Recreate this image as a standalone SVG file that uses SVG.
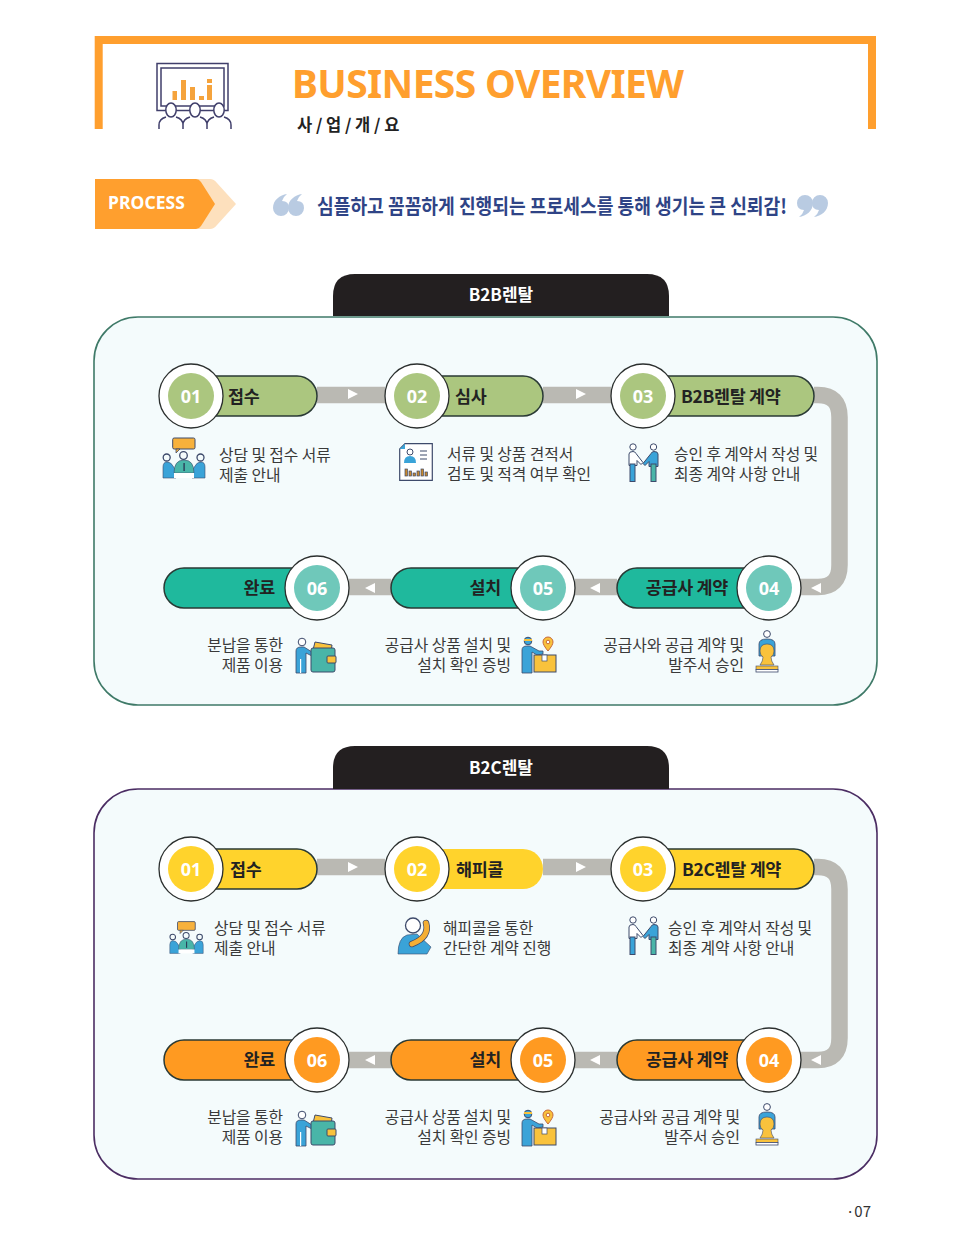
<svg xmlns="http://www.w3.org/2000/svg" width="966" height="1242" viewBox="0 0 966 1242">
<style>
text{font-family:"Noto Sans CJK KR","Noto Sans",sans-serif}
.ring{fill:#fff;stroke:#2b2f2e;stroke-width:1.3}
.num{fill:#fff;font-size:18px;font-weight:700;text-anchor:middle;font-family:"Noto Sans",sans-serif}
.lab{fill:#222;font-size:17.4px;font-weight:700;letter-spacing:-.3px}
.end{text-anchor:end}
.desc{fill:#3a3a3a;font-size:15.85px;letter-spacing:-.1px}
.pill{stroke:#2a3a35;stroke-width:1.5}
.conn{fill:none;stroke:#bab9b3;stroke-width:16.5}
.arr{fill:#fff}
.g1{fill:#abc67f}.g2{fill:#1fb99d}.g3{fill:#6fc8ba}.y{fill:#ffd32c}.o{fill:#ff9a21}
.tab{fill:#231f20}
.tabt{fill:#fff;font-size:17px;font-weight:700;text-anchor:middle}
.panel{fill:#f4fbfc;stroke-width:1.6}
.ln{fill:none;stroke:#3d4a6b;stroke-width:1.3}
.bl{fill:#3aa3d8}.tl{fill:#49b5a8}.gd{fill:#f9c23c}
</style>
<defs>
<symbol id="meet" viewBox="0 0 44 44" overflow="visible">
<rect x="10.700" y="2" width="22.300" height="11" rx="1.500" fill="#f7b13c" stroke="#3d4a6b" stroke-width="1"/><path d="M14 13v4l4-4z" fill="#f7b13c" stroke="#3d4a6b" stroke-width=".8"/>
<circle cx="21.500" cy="19.500" r="3.800" class="ln"/><circle cx="4.700" cy="21.500" r="3.500" class="ln"/><circle cx="38.500" cy="21.500" r="3.500" class="ln"/>
<path d="M1 42V31q0-5 4-5 4 0 6 4l3 5v7z" class="bl" stroke="#3d4a6b" stroke-width=".6"/><path d="M43 42V31q0-5-4-5-4 0-6 4l-3 5v7z" class="bl" stroke="#3d4a6b" stroke-width=".6"/>
<path d="M12 37q0-13 10-13t10 13z" class="tl" stroke="#3d4a6b" stroke-width=".6"/><rect x="21.400" y="27" width="1.400" height="8" fill="#2b3d5a"/><rect x="12" y="37" width="20" height="5" fill="#fff"/>
</symbol>
<symbol id="doc" viewBox="0 0 34 38" overflow="visible">
<path d="M6 .7H33.300V37.300H.7V6z" fill="#fff" stroke="#3d4a6b" stroke-width="1.200"/><path d="M.7 6L6 .7V6z" fill="#3aa3d8"/>
<circle cx="11" cy="9" r="3" fill="#fff" stroke="#3d4a6b"/><path d="M5 20q0-7 6-7t6 7z" class="bl"/>
<path d="M21 8h7M21 12h7M21 16h7" stroke="#3d4a6b" stroke-width="1"/>
<g fill="#c8882c" stroke="#3d4a6b" stroke-width=".7"><rect x="6" y="26" width="2.500" height="7"/><rect x="10" y="28" width="2.500" height="5"/><rect x="14" y="30" width="2.500" height="3"/><rect x="18" y="28" width="2.500" height="5"/><rect x="22" y="26" width="2.500" height="7"/><rect x="26" y="29" width="2.500" height="4"/></g>
</symbol>
<symbol id="hands" viewBox="0 0 31 39" overflow="visible">
<circle cx="5" cy="4" r="3.200" fill="#fff" stroke="#3d4a6b"/><circle cx="25.500" cy="4" r="3.200" fill="#fff" stroke="#3d4a6b"/>
<path d="M1 21V11q0-2.500 4-2.500 2 0 3 2l7 9-2 2-4-4v5H1z" fill="#fff" stroke="#3d4a6b"/>
<path d="M30 21V11q0-2.500-4-2.500-2 0-3 2l-8 10 2 2 4-4v5h9z" fill="#3aa3d8" stroke="#3d4a6b"/>
<rect x="2" y="21" width="5" height="17.500" fill="#3aa3d8" stroke="#3d4a6b"/><rect x="23" y="21" width="5" height="17.500" fill="#49b5a8" stroke="#3d4a6b"/>
</symbol>
<symbol id="wallet" viewBox="0 0 42 36" overflow="visible">
<circle cx="7" cy="5" r="3.800" fill="#fff" stroke="#3d4a6b"/>
<path d="M1 36V14q0-4 5-4h3l8 5 3-1 1 3-4 2-6-3v20z" class="bl" stroke="#3d4a6b" stroke-width=".8"/><rect x="5" y="22" width="1.200" height="14" fill="#fff"/>
<path d="M18 13l2-8 17 3-1 7z" fill="#f9c23c" stroke="#3d4a6b"/>
<rect x="16" y="11" width="24" height="24" rx="2" class="tl" stroke="#3d4a6b"/>
<rect x="32" y="19" width="9" height="7" rx="1" fill="#f9c23c" stroke="#3d4a6b"/>
</symbol>
<symbol id="box" viewBox="0 0 36 37" overflow="visible">
<circle cx="7" cy="5" r="3.800" class="bl" stroke="#3d4a6b"/><path d="M3 3h8v2H3z" fill="#f9c23c"/>
<path d="M1 37V14q0-4 5-4h3l9 5 4 0v3l-6 1-5-3v21z" class="bl" stroke="#3d4a6b" stroke-width=".8"/>
<path d="M27 1a5 5 0 0 1 5 5q0 3-5 9-5-6-5-9a5 5 0 0 1 5-5z" fill="#f9c23c" stroke="#c7683a"/><circle cx="27" cy="6" r="1.800" fill="#fff" stroke="#c7683a"/>
<rect x="13" y="19" width="22" height="17" fill="#f9c23c" stroke="#3d4a6b"/><rect x="21" y="19" width="5" height="6" fill="#fff" stroke="#3d4a6b" stroke-width=".7"/>
</symbol>
<symbol id="stamp" viewBox="0 0 24 43" overflow="visible">
<circle cx="12" cy="4" r="3.400" fill="#fff" stroke="#3d4a6b"/>
<path d="M4 26V14q0-5 8-5t8 5v12z" class="bl" stroke="#3d4a6b" stroke-width=".8"/>
<path d="M12 14q7 0 7 7 0 4-3 6 0 4 3 8H5q3-4 3-8-3-2-3-6 0-7 7-7z" class="gd" stroke="#3d4a6b" stroke-width=".6"/>
<rect x="1" y="36" width="22" height="3.500" class="gd" stroke="#3d4a6b" stroke-width=".6"/><rect x="1" y="39.500" width="22" height="2.500" fill="#fff" stroke="#3d4a6b" stroke-width=".8"/>
</symbol>
<symbol id="phone" viewBox="0 0 37 37" overflow="visible">
<circle cx="16" cy="8.500" r="7.500" fill="#fff" stroke="#3d4a6b" stroke-width="1.300"/>
<path d="M1 37q0-16 9-19l10-1 14 13-4 7z" class="bl" stroke="#3d4a6b" stroke-width=".6"/>
<path d="M29 6Q33 20 15 27" fill="none" stroke="#3d4a6b" stroke-width="6.500" stroke-linecap="round"/>
<path d="M29 6Q33 20 15 27" fill="none" stroke="#f5ae33" stroke-width="5" stroke-linecap="round"/>
</symbol>
<path id="q" d="M14 0C7 1 0 6 0 14a8 8 0 0 0 16 0q0-7-7-7 1-4 5-7z"/>
<path id="arrR" d="M0 0L10 5 0 10z"/>
<path id="arrL" d="M10 0L0 5 10 10z"/>
</defs>
<rect width="966" height="1242" fill="#fff"/>

<g id="header">
<path d="M98.700 129V40H872V129" fill="none" stroke="#ff9f2e" stroke-width="8"/>
<g id="header-icon" fill="none" stroke="#403f6b" stroke-width="1.500">
<rect x="157" y="63.500" width="71" height="47"/><rect x="161" y="68" width="63" height="38"/>
<g fill="#f5a33c" stroke="none"><rect x="172.500" y="91" width="4.500" height="9"/><rect x="181" y="80" width="5" height="20"/><rect x="190" y="87" width="5" height="13"/><rect x="199" y="96" width="5" height="4"/><rect x="207" y="85" width="5" height="15"/><rect x="207" y="79" width="5" height="4"/></g>
<g fill="#fff"><ellipse cx="171" cy="110" rx="5.200" ry="7"/><ellipse cx="195" cy="110" rx="5.200" ry="7"/><ellipse cx="219" cy="110" rx="5.200" ry="7"/></g>
<path d="M159 129v-4q0-6 7-8M183 129v-4q0-6-7-8M183 129v-4q0-6 7-8M207 129v-4q0-6-7-8M207 129v-4q0-6 7-8M231 129v-4q0-6-7-8"/>
</g>
<text x="292" y="98" font-size="39" font-weight="700" fill="#ff9f2e" textLength="392" lengthAdjust="spacing" style="font-family:'Noto Sans',sans-serif">BUSINESS OVERVIEW</text>
<text x="297" y="131" font-size="16.500" font-weight="700" fill="#222">사 / 업 / 개 / 요</text>
</g>

<g id="process">
<path d="M95 179H210Q214 179 217 183L236 204 217 225Q214 229 210 229H95z" fill="#fde0bd"/>
<path d="M95 179H196Q199 179 201 182L215 204 201 226Q199 229 196 229H95z" fill="#ff9f2e"/>
<text x="108" y="209" font-size="17.500" font-weight="700" fill="#fff" textLength="77" style="font-family:'Noto Sans',sans-serif">PROCESS</text>
<g id="quote-l" fill="#b9cbe2"><use href="#q" x="273" y="194"/><use href="#q" x="288" y="194"/></g>
<text x="317" y="214" font-size="20.500" font-weight="700" fill="#2f4486" textLength="470" lengthAdjust="spacingAndGlyphs">심플하고 꼼꼼하게 진행되는 프로세스를 통해 생기는 큰 신뢰감!</text>
<g id="quote-r" fill="#b9cbe2" transform="rotate(180 813 205.500)"><use href="#q" x="798" y="194"/><use href="#q" x="813" y="194"/></g>
</g>

<g id="section-b2b">
<rect class="panel" x="94" y="317" width="783" height="388" rx="44" stroke="#3f7a68"/>
<path class="tab" d="M333 316V296Q333 274 355 274H647Q669 274 669 296V316z"/>
<text class="tabt" x="501" y="301">B2B렌탈</text>
</g>
<g id="connectors-b2b">
<path class="conn" d="M317 395H385M543 395H611M814 395H818Q839.500 395 839.500 417V565Q839.500 587 818 587H800M617 587H575M391 587H349"/>
<use class="arr" href="#arrR" x="348" y="389"/><use class="arr" href="#arrR" x="576" y="389"/>
<use class="arr" href="#arrL" x="811" y="583"/><use class="arr" href="#arrL" x="590" y="583"/><use class="arr" href="#arrL" x="365" y="583"/>
</g>
<g id="b2b-01"><rect class="pill g1" x="180" y="376" width="137" height="40" rx="20"/><circle class="ring" cx="191" cy="396" r="32"/><circle class="g1" cx="191" cy="396" r="23"/><text class="num" x="191" y="403">01</text><text class="lab" x="228" y="403">접수</text><use href="#meet" x="162" y="436" width="44" height="44"/><text class="desc" x="219" y="461">상담 및 접수 서류</text><text class="desc" x="219" y="481">제출 안내</text></g>
<g id="b2b-02"><rect class="pill g1" x="406" y="376" width="137" height="40" rx="20"/><circle class="ring" cx="417" cy="396" r="32"/><circle class="g1" cx="417" cy="396" r="23"/><text class="num" x="417" y="403">02</text><text class="lab" x="455" y="403">심사</text><use href="#doc" x="399" y="443" width="34" height="38"/><text class="desc" x="447" y="460">서류 및 상품 견적서</text><text class="desc" x="447" y="480">검토 및 적격 여부 확인</text></g>
<g id="b2b-03"><rect class="pill g1" x="632" y="376" width="182" height="40" rx="20"/><circle class="ring" cx="643" cy="396" r="32"/><circle class="g1" cx="643" cy="396" r="23"/><text class="num" x="643" y="403">03</text><text class="lab" x="681" y="403">B2B렌탈 계약</text><use href="#hands" x="628" y="443" width="31" height="39"/><text class="desc" x="674" y="460">승인 후 계약서 작성 및</text><text class="desc" x="674" y="480">최종 계약 사항 안내</text></g>
<g id="b2b-04"><rect class="pill g2" x="617" y="568" width="163" height="40" rx="20"/><circle class="ring" cx="769" cy="588" r="32"/><circle class="g3" cx="769" cy="588" r="23"/><text class="num" x="769" y="595">04</text><text class="lab end" x="728" y="594">공급사 계약</text><use href="#stamp" x="755" y="630" width="24" height="43"/><text class="desc end" x="744" y="651">공급사와 공급 계약 및</text><text class="desc end" x="744" y="671">발주서 승인</text></g>
<g id="b2b-05"><rect class="pill g2" x="391" y="568" width="163" height="40" rx="20"/><circle class="ring" cx="543" cy="588" r="32"/><circle class="g3" cx="543" cy="588" r="23"/><text class="num" x="543" y="595">05</text><text class="lab end" x="501" y="594">설치</text><use href="#box" x="521" y="636" width="36" height="37"/><text class="desc end" x="511" y="651">공급사 상품 설치 및</text><text class="desc end" x="511" y="671">설치 확인 증빙</text></g>
<g id="b2b-06"><rect class="pill g2" x="164" y="568" width="164" height="40" rx="20"/><circle class="ring" cx="317" cy="588" r="32"/><circle class="g3" cx="317" cy="588" r="23"/><text class="num" x="317" y="595">06</text><text class="lab end" x="275" y="594">완료</text><use href="#wallet" x="295" y="637" width="42" height="36"/><text class="desc end" x="283" y="651">분납을 통한</text><text class="desc end" x="283" y="671">제품 이용</text></g>

<g id="section-b2c">
<rect class="panel" x="94" y="789" width="783" height="390" rx="44" stroke="#4b2d63"/>
<path class="tab" d="M333 789V768Q333 746 355 746H647Q669 746 669 768V789z"/>
<text class="tabt" x="501" y="774">B2C렌탈</text>
</g>
<g id="connectors-b2c">
<path class="conn" d="M317 867H385M543 867H611M814 867H818Q839.500 867 839.500 889V1038Q839.500 1060 818 1060H800M617 1060H575M391 1060H349"/>
<use class="arr" href="#arrR" x="348" y="862"/><use class="arr" href="#arrR" x="576" y="862"/>
<use class="arr" href="#arrL" x="811" y="1055"/><use class="arr" href="#arrL" x="590" y="1055"/><use class="arr" href="#arrL" x="365" y="1055"/>
</g>
<g id="b2c-01"><rect class="pill y" x="180" y="849" width="137" height="40" rx="20"/><circle class="ring" cx="191" cy="869" r="32"/><circle class="y" cx="191" cy="869" r="23"/><text class="num" x="191" y="876">01</text><text class="lab" x="230" y="876">접수</text><use href="#meet" x="169" y="920" width="35" height="35"/><text class="desc" x="214" y="934">상담 및 접수 서류</text><text class="desc" x="214" y="954">제출 안내</text></g>
<g id="b2c-02"><rect class="y" x="406" y="849" width="137" height="40" rx="20"/><circle class="ring" cx="417" cy="869" r="32"/><circle class="y" cx="417" cy="869" r="23"/><text class="num" x="417" y="876">02</text><text class="lab" x="456" y="876">해피콜</text><use href="#phone" x="397" y="917" width="37" height="37"/><text class="desc" x="443" y="934">해피콜을 통한</text><text class="desc" x="443" y="954">간단한 계약 진행</text></g>
<g id="b2c-03"><rect class="pill y" x="632" y="849" width="182" height="40" rx="20"/><circle class="ring" cx="643" cy="869" r="32"/><circle class="y" cx="643" cy="869" r="23"/><text class="num" x="643" y="876">03</text><text class="lab" x="682" y="876">B2C렌탈 계약</text><use href="#hands" x="628" y="916" width="31" height="39"/><text class="desc" x="668" y="934">승인 후 계약서 작성 및</text><text class="desc" x="668" y="954">최종 계약 사항 안내</text></g>
<g id="b2c-04"><rect class="pill o" x="617" y="1040" width="163" height="40" rx="20"/><circle class="ring" cx="769" cy="1060" r="32"/><circle class="o" cx="769" cy="1060" r="23"/><text class="num" x="769" y="1067">04</text><text class="lab end" x="728" y="1066">공급사 계약</text><use href="#stamp" x="755" y="1103" width="24" height="43"/><text class="desc end" x="740" y="1123">공급사와 공급 계약 및</text><text class="desc end" x="740" y="1143">발주서 승인</text></g>
<g id="b2c-05"><rect class="pill o" x="391" y="1040" width="163" height="40" rx="20"/><circle class="ring" cx="543" cy="1060" r="32"/><circle class="o" cx="543" cy="1060" r="23"/><text class="num" x="543" y="1067">05</text><text class="lab end" x="501" y="1066">설치</text><use href="#box" x="521" y="1109" width="36" height="37"/><text class="desc end" x="511" y="1123">공급사 상품 설치 및</text><text class="desc end" x="511" y="1143">설치 확인 증빙</text></g>
<g id="b2c-06"><rect class="pill o" x="164" y="1040" width="164" height="40" rx="20"/><circle class="ring" cx="317" cy="1060" r="32"/><circle class="o" cx="317" cy="1060" r="23"/><text class="num" x="317" y="1067">06</text><text class="lab end" x="275" y="1066">완료</text><use href="#wallet" x="295" y="1110" width="42" height="36"/><text class="desc end" x="283" y="1123">분납을 통한</text><text class="desc end" x="283" y="1143">제품 이용</text></g>

<text id="page" x="871" y="1217" font-size="15" fill="#333" text-anchor="end">·07</text>
</svg>
